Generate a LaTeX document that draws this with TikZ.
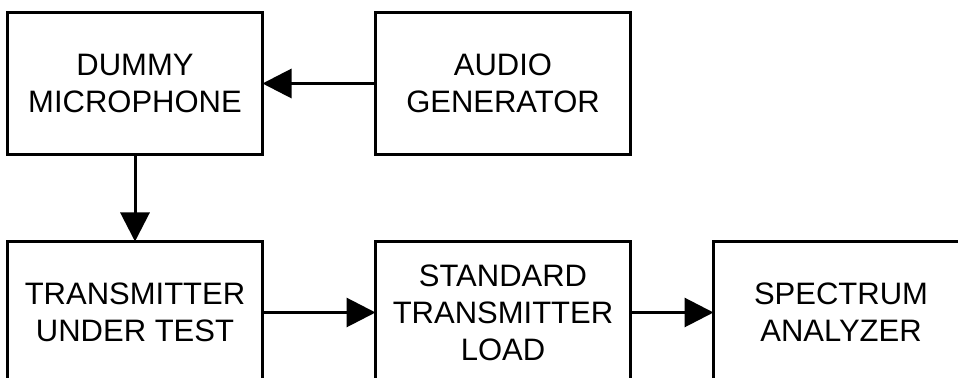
\documentclass[tikz,border=0pt]{standalone}
\usepackage{fontspec}
\setmainfont{Liberation Sans}
\usetikzlibrary{positioning,arrows.meta}

\begin{document}
\begin{tikzpicture}[->,>={Triangle[length=14.5pt,width=14.5pt]},line width=1.5pt,node distance=43.5pt and 56.5pt,main node/.style={draw,rectangle,outer sep=0pt,minimum width=127.5pt,minimum height=71pt,align=center,font=\fontsize{15.5}{18.5}\selectfont}]
                \useasboundingbox (0,0) rectangle (479pt,-189pt);
                \node[main node] (mic) at (67.5pt,-41.75pt) {DUMMY\\MICROPHONE};
                \node[main node] (gen) [right=of mic] {AUDIO\\GENERATOR};
                \node[main node] (tx) [below=of mic] {TRANSMITTER\\UNDER TEST};
                \node[main node] (load) [right=of tx] {STANDARD\\TRANSMITTER\\LOAD};
                \node[main node] (spec) [right=41.5pt of load] {SPECTRUM\\ANALYZER};

                \path
                    (gen) edge (mic)
                    (mic) edge (tx)
                    (tx) edge (load)
                    (load) edge (spec)
                    ;
            \end{tikzpicture}
\end{document}
